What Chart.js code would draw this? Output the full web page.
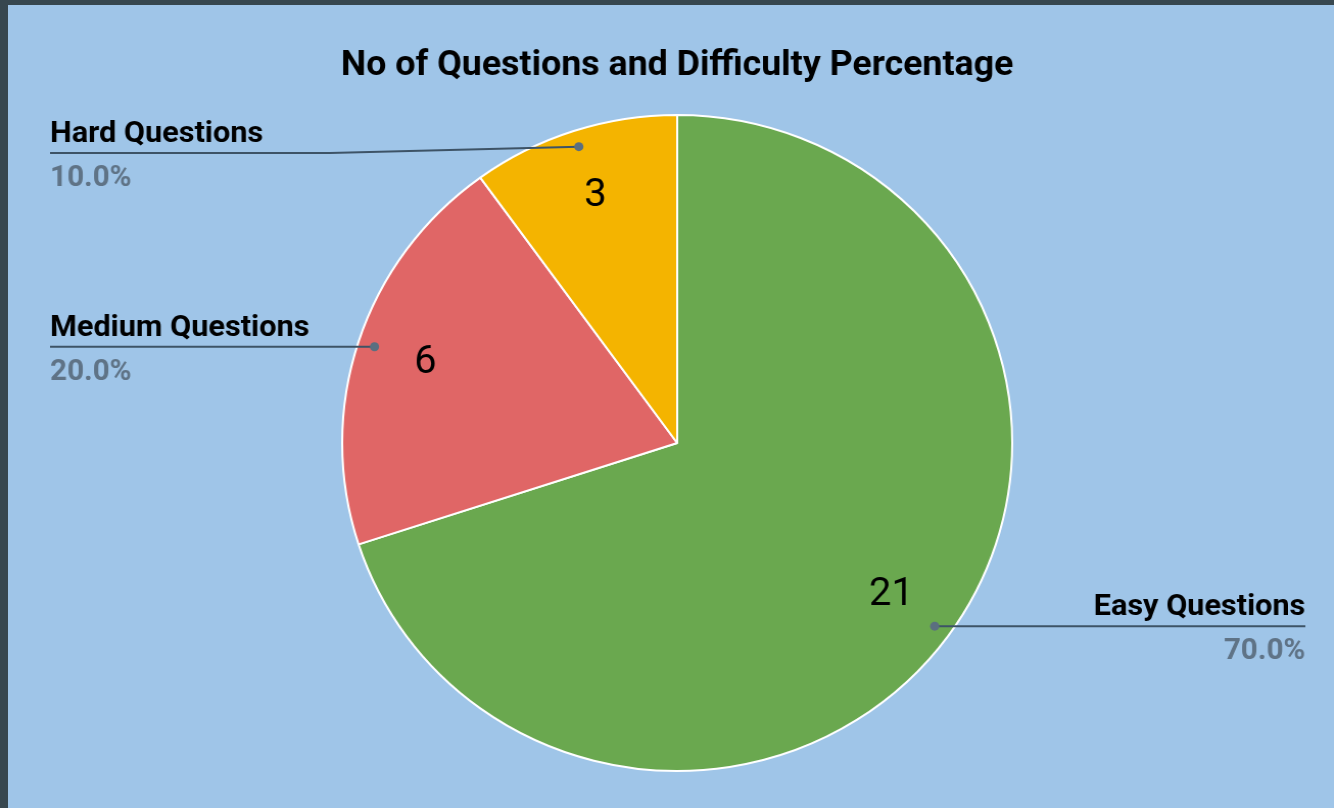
<!DOCTYPE html>
<html lang="en">
<head>
  <meta charset="UTF-8">
  <title>Questions</title>
  <script src="https://cdn.jsdelivr.net/npm/chart.js"></script>
  <style>
    html, body {
      margin: 0;
      padding: 0;
      background: #9fc5e8;
      overflow: hidden;
    }
    .frame-top {
      position: absolute; left: 0; top: 0; width: 1334px; height: 5px; background: #37474f;
    }
    .frame-left {
      position: absolute; left: 0; top: 0; width: 8px; height: 808px; background: #37474f;
    }
    /* the original picture is a little wider than tall, so stretch it the same way */
    .chart-container {
      position: absolute; left: 0; top: 0; width: 1306px; height: 808px;
      transform: scaleX(1.0214);
      transform-origin: 0 0;
    }
  </style>
</head>
<body>

<div class="chart-container">
  <canvas id="pieChart" width="1306" height="808"></canvas>
</div>
<div class="frame-top"></div>
<div class="frame-left"></div>

<script>
const categorias = ['Easy Questions', 'Medium Questions', 'Hard Questions'];
const cantidades = [21, 6, 3];
const colores = ['#6aa84f', '#e06666', '#f4b400'];

// where each outside label sits (layout only, canvas coords)
const etiquetas = [
  { lado: 'right', x: 1278, lineY: null },
  { lado: 'left', x: 49, lineY: null },
  { lado: 'left', x: 49, lineY: 153, codo: 323 }
];

const total = cantidades.reduce((a, b) => a + b, 0);

const etiquetasPlugin = {
  id: 'etiquetas',
  afterDatasetsDraw(chart) {
    const ctx = chart.ctx;
    const arcs = chart.getDatasetMeta(0).data;
    arcs.forEach((arc, i) => {
      const p = arc.getProps(['x', 'y', 'startAngle', 'endAngle', 'outerRadius'], true);
      const mid = (p.startAngle + p.endAngle) / 2;
      const r = p.outerRadius;

      // value inside slice
      ctx.save();
      ctx.font = '39px Roboto';
      ctx.fillStyle = '#000';
      ctx.textAlign = 'center';
      ctx.textBaseline = 'middle';
      const vr = r * 0.79;
      ctx.fillText(String(cantidades[i]), p.x + Math.cos(mid) * vr, p.y + Math.sin(mid) * vr);

      // leader line
      const dx = p.x + Math.cos(mid) * r * 0.95;
      const dy = p.y + Math.sin(mid) * r * 0.95;
      const cfg = etiquetas[i];
      const ly = cfg.lineY === null ? dy : cfg.lineY;
      ctx.strokeStyle = '#3d5366';
      ctx.lineWidth = 2;
      ctx.beginPath();
      ctx.moveTo(dx, dy);
      if (cfg.codo) ctx.lineTo(cfg.codo, ly);
      ctx.lineTo(cfg.x, ly);
      ctx.stroke();
      ctx.fillStyle = '#5b6f80';
      ctx.beginPath();
      ctx.arc(dx, dy, 4.5, 0, Math.PI * 2);
      ctx.fill();

      // texts
      ctx.textAlign = cfg.lado === 'left' ? 'left' : 'right';
      ctx.textBaseline = 'alphabetic';
      ctx.font = 'bold 30px Roboto';
      ctx.fillStyle = '#000';
      ctx.fillText(categorias[i], cfg.x, ly - 11);
      ctx.font = 'bold 29px Roboto';
      ctx.fillStyle = '#5f7386';
      ctx.fillText((cantidades[i] / total * 100).toFixed(1) + '%', cfg.x, ly + 33);
      ctx.restore();
    });
  }
};

const chart = new Chart(document.getElementById('pieChart'), {
  type: 'pie',
  data: {
    labels: categorias,
    datasets: [{
      data: cantidades,
      backgroundColor: colores,
      borderColor: '#ffffff',
      borderWidth: 2
    }]
  },
  options: {
    responsive: false,
    animation: false,
    layout: { padding: { top: 0, bottom: 36, left: 20, right: 0 } },
    plugins: {
      legend: { display: false },
      tooltip: { enabled: false },
      title: {
        display: true,
        text: 'No of Questions and Difficulty Percentage',
        color: '#000',
        font: { family: 'Roboto', size: 35, weight: 'bold' },
        padding: { top: 45, bottom: 27 }
      }
    }
  },
  plugins: [etiquetasPlugin]
});
</script>

</body>
</html>
